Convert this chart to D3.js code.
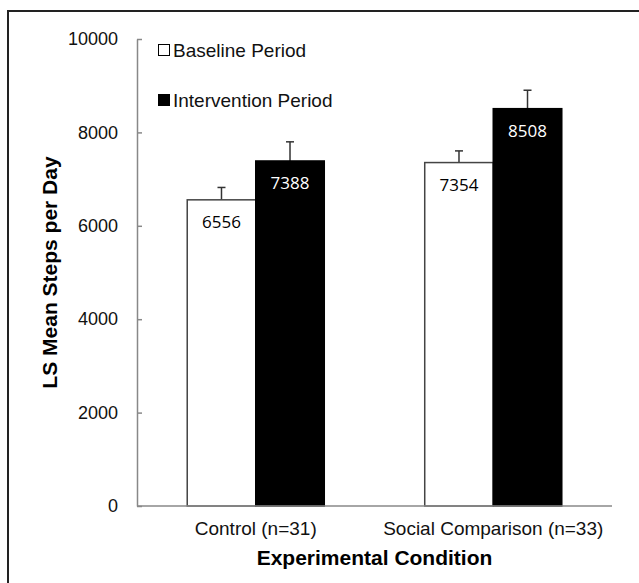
<!DOCTYPE html>
<html>
<head>
<meta charset="utf-8">
<script src="https://cdn.jsdelivr.net/npm/d3@7"></script>
<style>
  html, body { margin: 0; background: #fff; overflow: hidden; }
  svg { display: block; }
  svg text { font-family: "Liberation Sans", Arial, sans-serif; }
</style>
</head>
<body>
<div id="chart"></div>
<script>
const categories = ["Control (n=31)", "Social Comparison (n=33)"];
const seriesNames = ["Baseline Period", "Intervention Period"];
const baselineValues = [6556, 7354];
const interventionValues = [7388, 8508];
const baselineErrors = [265, 250];
const interventionErrors = [410, 395];
const yTicks = [0, 2000, 4000, 6000, 8000, 10000];

const width = 639, height = 583;
const plotLeft = 137, plotRight = 612, plotTop = 39, plotBottom = 506;

const svg = d3.select("#chart")
  .append("svg")
  .attr("width", width)
  .attr("height", height);

// frame round the figure (runs off the right and bottom edges)
svg.append("rect")
  .attr("x", 8).attr("y", 11)
  .attr("width", 700).attr("height", 700)
  .attr("fill", "none")
  .attr("stroke", "#222")
  .attr("stroke-width", 2);

const y = d3.scaleLinear().domain([0, 10000]).range([plotBottom, plotTop]);
const x0 = d3.scaleBand().domain(categories).range([plotLeft, plotRight]);
const x1 = d3.scaleBand().domain(seriesNames).range([0, x0.bandwidth()]).paddingOuter(0.733);

// y axis, ticks point inward
const yAxis = svg.append("g")
  .attr("transform", `translate(${plotLeft},0)`)
  .call(d3.axisLeft(y).tickValues(yTicks).tickSizeInner(-5).tickSizeOuter(0).tickPadding(19).tickFormat(d3.format("d")));
yAxis.select(".domain").attr("stroke", "#888").attr("stroke-width", 1.5);
yAxis.selectAll(".tick line").attr("stroke", "#888").attr("stroke-width", 1.5);
yAxis.selectAll(".tick text")
  .attr("font-size", 18)
  .attr("fill", "#111")
  .attr("font-family", "Liberation Sans, Arial, sans-serif");

// rows of bars
const rows = categories.map((c, i) => ({
  cat: c,
  bars: [
    { s: seriesNames[0], v: baselineValues[i], e: baselineErrors[i] },
    { s: seriesNames[1], v: interventionValues[i], e: interventionErrors[i] }
  ]
}));

const groups = svg.selectAll(".grp")
  .data(rows)
  .enter()
  .append("g")
  .attr("transform", d => `translate(${x0(d.cat)},0)`);

const bar = groups.selectAll(".bar")
  .data(d => d.bars)
  .enter()
  .append("g");

// error bars (upper half only)
bar.append("line")
  .attr("x1", d => x1(d.s) + x1.bandwidth() / 2)
  .attr("x2", d => x1(d.s) + x1.bandwidth() / 2)
  .attr("y1", d => y(d.v))
  .attr("y2", d => y(d.v + d.e))
  .attr("stroke", "#333").attr("stroke-width", 1.5);
bar.append("line")
  .attr("x1", d => x1(d.s) + x1.bandwidth() / 2 - 4)
  .attr("x2", d => x1(d.s) + x1.bandwidth() / 2 + 4)
  .attr("y1", d => y(d.v + d.e))
  .attr("y2", d => y(d.v + d.e))
  .attr("stroke", "#333").attr("stroke-width", 1.5);

bar.append("rect")
  .attr("x", d => x1(d.s))
  .attr("y", d => y(d.v))
  .attr("width", x1.bandwidth())
  .attr("height", d => y(0) - y(d.v))
  .attr("fill", d => d.s === seriesNames[0] ? "#fff" : "#000")
  .attr("stroke", d => d.s === seriesNames[0] ? "#444" : "#000")
  .attr("stroke-width", 1.5);

bar.append("text")
  .attr("x", d => x1(d.s) + x1.bandwidth() / 2)
  .attr("y", d => y(d.v) + 28)
  .attr("text-anchor", "middle")
  .attr("font-size", 17)
  .style("font-family", "'Open Sans', sans-serif")
  .attr("fill", d => d.s === seriesNames[0] ? "#000" : "#fff")
  .text(d => d.v);

// x axis line
svg.append("line")
  .attr("x1", plotLeft).attr("x2", plotRight)
  .attr("y1", y(0)).attr("y2", y(0))
  .attr("stroke", "#888").attr("stroke-width", 1.5);

svg.selectAll(".cat")
  .data(categories)
  .enter()
  .append("text")
  .attr("x", d => x0(d) + x0.bandwidth() / 2)
  .attr("y", 535)
  .attr("text-anchor", "middle")
  .attr("font-size", 19)
  .attr("fill", "#111")
  .text(d => d);

// axis titles
svg.append("text")
  .attr("x", (plotLeft + plotRight) / 2)
  .attr("y", 565)
  .attr("text-anchor", "middle")
  .attr("font-size", 21)
  .attr("font-weight", "bold")
  .text("Experimental Condition");

svg.append("text")
  .attr("transform", `translate(57,${(plotTop + plotBottom) / 2}) rotate(-90)`)
  .attr("text-anchor", "middle")
  .attr("font-size", 21)
  .attr("font-weight", "bold")
  .text("LS Mean Steps per Day");

// legend
const legend = svg.selectAll(".leg")
  .data(seriesNames)
  .enter()
  .append("g")
  .attr("transform", (d, i) => `translate(158,${50 + i * 50})`);
legend.append("rect")
  .attr("x", 0.5).attr("y", -5.5)
  .attr("width", 11).attr("height", 11)
  .attr("fill", (d, i) => i === 0 ? "#fff" : "#000")
  .attr("stroke", "#000").attr("stroke-width", 1);
legend.append("text")
  .attr("x", 15)
  .attr("y", 7)
  .attr("font-size", 19)
  .attr("fill", "#111")
  .text(d => d);
</script>
</body>
</html>
